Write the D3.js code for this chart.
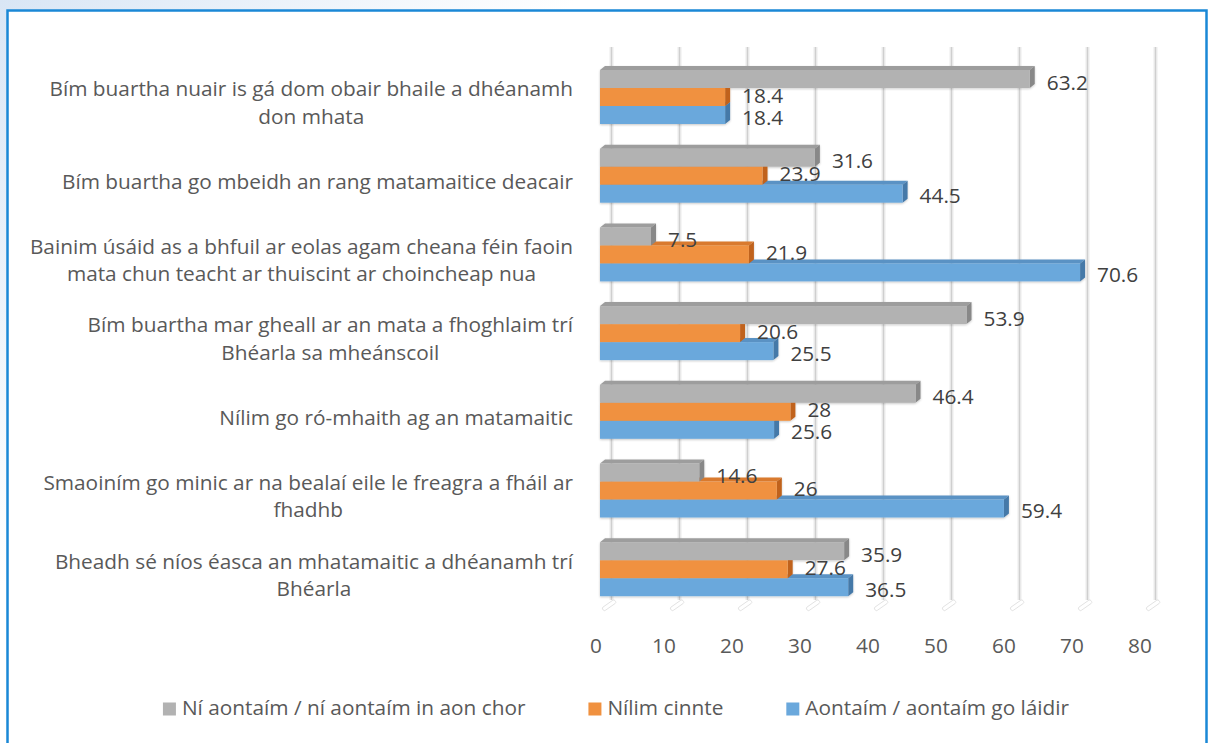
<!DOCTYPE html>
<html><head><meta charset="utf-8">
<script src="https://cdn.jsdelivr.net/npm/d3@7"></script>
<style>html,body{margin:0;padding:0;width:1214px;height:743px;overflow:hidden;background:#fff}</style>
</head><body><svg id="c" width="1214" height="743"></svg>
<script>
const categoryLines = [
  ["Bím buartha nuair is gá dom obair bhaile a dhéanamh", "don mhata"],
  ["Bím buartha go mbeidh an rang matamaitice deacair"],
  ["Bainim úsáid as a bhfuil ar eolas agam cheana féin faoin", "mata chun teacht ar thuiscint ar choincheap nua"],
  ["Bím buartha mar gheall ar an mata a fhoghlaim trí", "Bhéarla sa mheánscoil"],
  ["Nílim go ró-mhaith ag an matamaitic"],
  ["Smaoiním go minic ar na bealaí eile le freagra a fháil ar", "fhadhb"],
  ["Bheadh sé níos éasca an mhatamaitic a dhéanamh trí", "Bhéarla"]
];
const seriesNames = ["Ní aontaím / ní aontaím in aon chor", "Nílim cinnte", "Aontaím / aontaím go láidir"];
const disagree = [63.2, 31.6, 7.5, 53.9, 46.4, 14.6, 35.9];
const unsure   = [18.4, 23.9, 21.9, 20.6, 28, 26, 27.6];
const agree    = [18.4, 44.5, 70.6, 25.5, 25.6, 59.4, 36.5];
const xTicks = [0, 10, 20, 30, 40, 50, 60, 70, 80];

const seriesValues = [disagree, unsure, agree];
const colFront = ["#b2b2b2", "#f0913f", "#6aa8dc"];
const colTop   = ["#9d9d9d", "#d97a2e", "#5a92c4"];
const colSide  = ["#888888", "#c0621c", "#4579a8"];

const FONT = "'Open Sans', sans-serif";
const FS = 20.8;
const svg = d3.select("#c");
const defs = svg.append("defs");
const bg = defs.append("linearGradient").attr("id", "bg").attr("x1", 0).attr("y1", 0).attr("x2", 1).attr("y2", 0.6);
bg.append("stop").attr("offset", 0).attr("stop-color", "#d9e6f5");
bg.append("stop").attr("offset", 0.35).attr("stop-color", "#ffffff");
const sh = defs.append("filter").attr("id", "sh").attr("x", "-5%").attr("y", "-30%").attr("width", "110%").attr("height", "160%");
sh.append("feDropShadow").attr("dx", 0).attr("dy", 1).attr("stdDeviation", 1.3).attr("flood-color", "#000").attr("flood-opacity", 0.22);

svg.append("rect").attr("width", 1214).attr("height", 743).attr("fill", "url(#bg)");
svg.append("rect").attr("x", 7.5).attr("y", 10.5).attr("width", 1199).attr("height", 760)
  .attr("fill", "#fff").attr("stroke", "#1a88d6").attr("stroke-width", 2.5);

const x = d3.scaleLinear().domain([0, 80]).range([600, 1144]);
const y = d3.scaleBand().domain(d3.range(categoryLines.length)).range([57.65, 608.55]).paddingInner(0.314).paddingOuter(0.157);
const ySub = d3.scaleBand().domain([0, 1, 2]).range([0, y.bandwidth()]);
const DX = 5, DY = 4, WALL = 11.5;
const labelDy = [5, 0, 4];

// back-wall gridlines
const grid = svg.append("g");
xTicks.forEach(v => {
  const gx = x(v) + WALL;
  grid.append("rect").attr("x", gx - 2).attr("y", 47).attr("width", 4).attr("height", 553).attr("fill", "#ebebeb");
  grid.append("line").attr("x1", gx).attr("x2", gx).attr("y1", 47).attr("y2", 600).attr("stroke", "#cfcfcf").attr("stroke-width", 1.2);
  grid.append("rect").attr("x", gx - 10).attr("y", 603).attr("width", 15).attr("height", 4).attr("rx", 1.5)
    .attr("fill", "none").attr("stroke", "#dedede").attr("stroke-width", 0.8)
    .attr("transform", `rotate(-35 ${gx - 2} 605)`);
});

// bars (draw bottom series first so upper bars cover their top faces)
const bars = svg.append("g").attr("filter", "url(#sh)");
categoryLines.forEach((_, i) => {
  for (let s = 2; s >= 0; s--) {
    const v = seriesValues[s][i];
    const x0 = x(0), x1 = x(v);
    const yt = y(i) + ySub(s), h = ySub.bandwidth();
    const g = bars.append("g");
    g.append("path").attr("d", `M${x0},${yt}L${x1},${yt}L${x1 + DX},${yt - DY}L${x0 + DX},${yt - DY}Z`).attr("fill", colTop[s]);
    g.append("path").attr("d", `M${x1},${yt}L${x1 + DX},${yt - DY}L${x1 + DX},${yt + h - DY}L${x1},${yt + h}Z`).attr("fill", colSide[s]);
    g.append("rect").attr("x", x0).attr("y", yt).attr("width", x1 - x0).attr("height", h).attr("fill", colFront[s]);
  }
});

// value labels
const lab = svg.append("g").attr("font-family", FONT).attr("font-size", FS).attr("fill", "#404040");
categoryLines.forEach((_, i) => {
  for (let s = 0; s < 3; s++) {
    const v = seriesValues[s][i];
    lab.append("text").attr("x", x(v) + 17).attr("y", y(i) + ySub(s) + ySub.bandwidth() / 2 + labelDy[s])
      .attr("dominant-baseline", "middle").text(v);
  }
});

// category labels
const cat = svg.append("g").attr("font-family", FONT).attr("font-size", FS).attr("fill", "#595959");
const LH = 27.5, RIGHT = 573;
categoryLines.forEach((lines, i) => {
  const cy = y(i) + y.bandwidth() / 2 + 7.5;
  const g = cat.append("g");
  const texts = lines.map((t, k) => g.append("text").attr("y", cy + (k - (lines.length - 1) / 2) * LH)
    .attr("dominant-baseline", "middle").attr("text-anchor", "middle").text(t));
  const w = d3.max(texts, t => t.node().getComputedTextLength());
  texts.forEach(t => t.attr("x", RIGHT - w / 2));
});

// x axis tick labels
const ax = svg.append("g").attr("font-family", FONT).attr("font-size", FS).attr("fill", "#595959");
xTicks.forEach(v => {
  ax.append("text").attr("x", x(v) - 4).attr("y", 647).attr("text-anchor", "middle").attr("dominant-baseline", "middle").text(v);
});

// legend
const leg = svg.append("g").attr("font-family", FONT).attr("font-size", FS).attr("fill", "#595959");
const items = seriesNames.map((n, s) => {
  const g = leg.append("g");
  g.append("rect").attr("x", 0).attr("y", -6.5).attr("width", 13).attr("height", 13).attr("fill", colFront[s]);
  const t = g.append("text").attr("x", 19).attr("y", 0).attr("dominant-baseline", "middle").text(n);
  return { g, w: 19 + t.node().getComputedTextLength() };
});
const GAP = 63;
const total = d3.sum(items, d => d.w) + GAP * (items.length - 1);
let lx = 616 - total / 2;
items.forEach(it => { it.g.attr("transform", `translate(${lx},709)`); lx += it.w + GAP; });
</script></body></html>
